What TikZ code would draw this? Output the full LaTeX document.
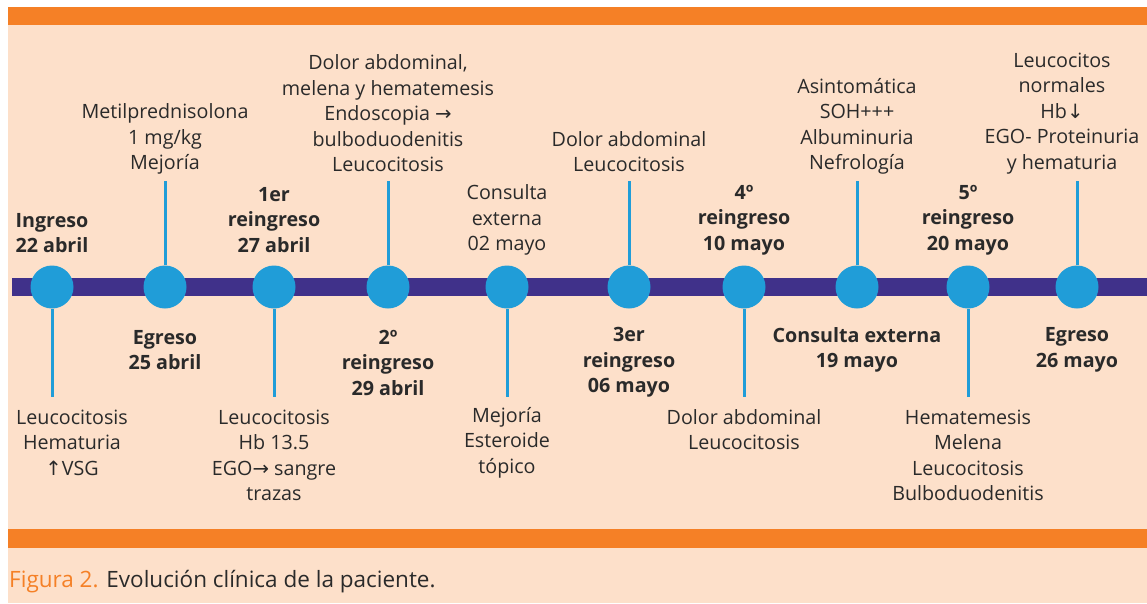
\documentclass[tikz,border=0pt]{standalone}
\usepackage{fontspec}
\setmainfont{Open Sans}
\newfontfamily\arrowfont{DejaVu Sans}
\definecolor{peach}{HTML}{FDE0CA}
\definecolor{barorange}{HTML}{F58026}
\definecolor{barpurple}{HTML}{40318A}
\definecolor{hitoblue}{HTML}{209DD8}
\definecolor{textgray}{HTML}{2A2A2A}
\begin{document}
\begin{tikzpicture}[x=1pt,y=-1pt]
	\tikzstyle{every node}+=[inner sep=0pt]
	\tikzstyle{hito}=[circle, fill=hitoblue, minimum size=43pt]
	\tikzstyle{txt}=[align=center, text=textgray, font=\fontsize{19.7}{25.5}\selectfont]
	\tikzstyle{fecha}=[align=center, text=textgray, font=\fontsize{19.7}{25.5}\selectfont\bfseries]
	\tikzstyle{stem}=[hitoblue, line width=3pt]
	% fondo y barras
	\useasboundingbox (0,0) rectangle (1147,603);
	\fill [peach] (8,7) rectangle (1147,603);
	\fill [barorange] (8,7) rectangle (1147,25);
	\fill [barorange] (8,529) rectangle (1147,548);
	\fill [barpurple] (12,278) rectangle (1147,296);
	% hitos
	\node [hito] (c1) at (52,287) {};
	\node [hito] (c2) at (165,287) {};
	\node [hito] (c3) at (274,287) {};
	\node [hito] (c4) at (388,287) {};
	\node [hito] (c5) at (507,287) {};
	\node [hito] (c6) at (629,287) {};
	\node [hito] (c7) at (744,287) {};
	\node [hito] (c8) at (857,287) {};
	\node [hito] (c9) at (968,287) {};
	\node [hito] (c10) at (1077,287) {};
	% lineas
	\coordinate (b1) at (52,397);
	\coordinate (t2) at (165,181);
	\coordinate (b3) at (274,397);
	\coordinate (t4) at (388,181);
	\coordinate (b5) at (507,397);
	\coordinate (t6) at (629,181);
	\coordinate (b7) at (744,397);
	\coordinate (t8) at (857,181);
	\coordinate (b9) at (968,397);
	\coordinate (t10) at (1077,181);
	\draw [stem] (c1) -- (b1);
	\draw [stem] (c2) -- (t2);
	\draw [stem] (c3) -- (b3);
	\draw [stem] (c4) -- (t4);
	\draw [stem] (c5) -- (b5);
	\draw [stem] (c6) -- (t6);
	\draw [stem] (c7) -- (b7);
	\draw [stem] (c8) -- (t8);
	\draw [stem] (c9) -- (b9);
	\draw [stem] (c10) -- (t10);
	% textos
	\node [fecha] (f1) at (52,233) {Ingreso\\22 abril};
	\node [txt] (d1) at (72,442.5) {Leucocitosis\\Hematuria\\{\arrowfont ↑}VSG};
	\node [txt] (d2) at (165,139) {Metilprednisolona\\1 mg/kg\\Mejoría};
	\node [fecha] (f2) at (165,350) {Egreso\\25 abril};
	\node [fecha] (f3) at (274,220) {1er\\reingreso\\27 abril};
	\node [txt] (d3) at (274,455.5) {Leucocitosis\\Hb 13.5\\EGO{\arrowfont →} sangre\\trazas};
	\node [txt] (d4) at (388,113.5) {Dolor abdominal,\\melena y hematemesis\\Endoscopia {\arrowfont →}\\bulboduodenitis\\Leucocitosis};
	\node [fecha] (f4) at (388,362.5) {2º\\reingreso\\29 abril};
	\node [txt] (f5) at (507,220) {Consulta\\externa\\02 mayo};
	\node [txt] (d5) at (507,442.5) {Mejoría\\Esteroide\\tópico};
	\node [txt] (d6) at (629,151.5) {Dolor abdominal\\Leucocitosis};
	\node [fecha] (f6) at (629,362.5) {3er\\reingreso\\06 mayo};
	\node [fecha] (f7) at (744,220) {4º\\reingreso\\10 mayo};
	\node [txt] (d7) at (744,429.5) {Dolor abdominal\\Leucocitosis};
	\node [txt] (d8) at (857,126.5) {Asintomática\\SOH+++\\Albuminuria\\Nefrología};
	\node [fecha] (f8) at (857,350) {Consulta externa\\19 mayo};
	\node [fecha] (f9) at (968,220) {5º\\reingreso\\20 mayo};
	\node [txt] (d9) at (968,455.5) {Hematemesis\\Melena\\Leucocitosis\\Bulboduodenitis};
	\node [txt] (d10) at (1062,113.5) {Leucocitos\\normales\\Hb{\arrowfont ↓}\\EGO- Proteinuria\\y hematuria};
	\node [fecha] (f10) at (1077,350) {Egreso\\26 mayo};
	% pie
	\node [anchor=base west, text=textgray, font=\fontsize{22.5}{27}\selectfont] (pie) at (9,587) {\textcolor{barorange}{Figura 2.} Evolución clínica de la paciente.};
\end{tikzpicture}
\end{document}
